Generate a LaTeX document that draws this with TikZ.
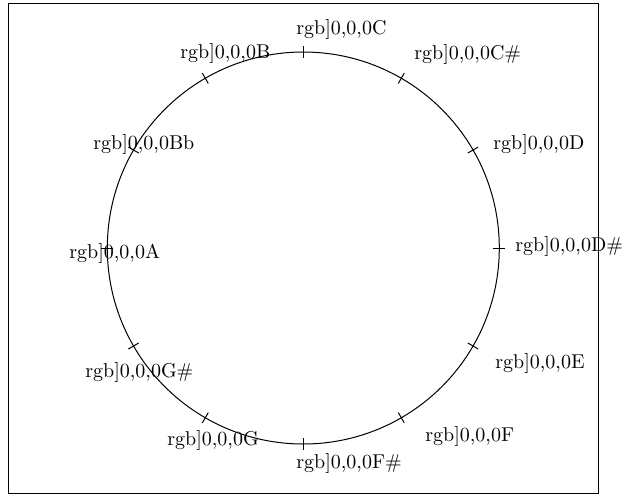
\documentclass[tikz,border=0pt]{standalone}
\begin{document}
\begin{tikzpicture}[x=0.5pt,y=-0.5pt,
  lab/.style={anchor=base west, inner sep=0pt, font=\fontsize{10}{12}\selectfont},
  thin line/.style={line width=0.5pt, black}]
\useasboundingbox (0,0) rectangle (628,495);
\draw[thin line] (8,3) rectangle (598,493);
\coordinate (o) at (303.3,248);
\draw[thin line] (o) circle [radius=98pt];
\foreach \a in {0,30,...,330}
  \draw[thin line] ([shift={(\a:95pt)}]o) -- ([shift={(\a:101pt)}]o);
\node[lab] (c)  at (296,34)  {rgb]0,0,0C};
\node[lab] (cs) at (414,59)  {rgb]0,0,0C\#};
\node[lab] (d)  at (493,149) {rgb]0,0,0D};
\node[lab] (ds) at (515,251) {rgb]0,0,0D\#};
\node[lab] (e)  at (495,368) {rgb]0,0,0E};
\node[lab] (f)  at (425,441) {rgb]0,0,0F};
\node[lab] (fs) at (296,468) {rgb]0,0,0F\#};
\node[lab] (g)  at (167,445) {rgb]0,0,0G};
\node[lab] (gs) at (85,377)  {rgb]0,0,0G\#};
\node[lab] (a)  at (69,258)  {rgb]0,0,0A};
\node[lab] (bb) at (93,149)  {rgb]0,0,0Bb};
\node[lab] (b)  at (180,58)  {rgb]0,0,0B};
\end{tikzpicture}
\end{document}
